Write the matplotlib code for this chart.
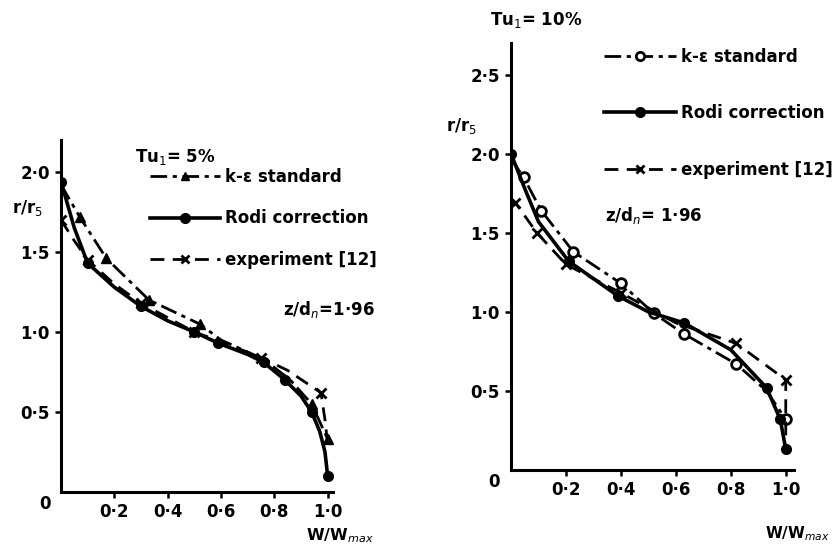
import matplotlib
matplotlib.use("Agg")
import matplotlib.pyplot as plt
from matplotlib.lines import Line2D

# ---------------- data (Tu1 = 5 %) ----------------
ke5_x = [0.0, 0.07, 0.17, 0.33, 0.52, 0.60, 0.76, 0.86, 0.94, 1.0]
ke5_y = [1.92, 1.72, 1.46, 1.20, 1.05, 0.95, 0.83, 0.70, 0.55, 0.33]
ke5_mark = [1, 2, 3, 4, 8, 9]

rodi5_x = [0.0, 0.05, 0.10, 0.20, 0.30, 0.40, 0.50, 0.59, 0.70, 0.76, 0.84, 0.90, 0.94, 0.97, 0.99, 1.0]
rodi5_y = [1.94, 1.65, 1.43, 1.28, 1.16, 1.07, 1.00, 0.93, 0.86, 0.81, 0.70, 0.60, 0.50, 0.38, 0.25, 0.10]
rodi5_mark = [0, 2, 4, 6, 7, 9, 10, 12, 15]

exp5_x = [0.0, 0.05, 0.10, 0.20, 0.30, 0.50, 0.60, 0.75, 0.85, 0.975, 0.99, 1.0]
exp5_y = [1.70, 1.57, 1.45, 1.30, 1.18, 1.00, 0.94, 0.84, 0.76, 0.62, 0.45, 0.30]
exp5_mark = [0, 2, 4, 5, 7, 9]

# ---------------- data (Tu1 = 10 %) ----------------
ke10_x = [0.0, 0.046, 0.11, 0.227, 0.40, 0.52, 0.63, 0.82, 0.93, 1.0]
ke10_y = [1.97, 1.85, 1.64, 1.38, 1.18, 0.99, 0.86, 0.67, 0.50, 0.32]
ke10_mark = [1, 2, 3, 4, 5, 6, 7, 9]

rodi10_x = [0.0, 0.05, 0.10, 0.21, 0.39, 0.50, 0.63, 0.80, 0.93, 0.98, 1.0]
rodi10_y = [2.00, 1.78, 1.57, 1.32, 1.10, 1.00, 0.93, 0.76, 0.52, 0.32, 0.13]
rodi10_mark = [0, 3, 4, 6, 8, 9, 10]

exp10_x = [0.0, 0.016, 0.094, 0.20, 0.40, 0.60, 0.82, 1.0, 1.0]
exp10_y = [1.72, 1.69, 1.50, 1.30, 1.12, 0.93, 0.80, 0.57, 0.11]
exp10_mark = [1, 2, 3, 4, 6, 7]

xticks = [0.2, 0.4, 0.6, 0.8, 1.0]
xticklabels = ["0·2", "0·4", "0·6", "0·8", "1·0"]
yticks5 = [0.5, 1.0, 1.5, 2.0]
yticklabels5 = ["0·5", "1·0", "1·5", "2·0"]
yticks10 = [0.5, 1.0, 1.5, 2.0, 2.5]
yticklabels10 = ["0·5", "1·0", "1·5", "2·0", "2·5"]

FONT = dict(family="DejaVu Sans", fontweight="bold")
LW = 2.0
K = "black"

fig = plt.figure(figsize=(8.36, 5.48), dpi=100)
fig.patch.set_facecolor("white")

ax1 = fig.add_axes([61/836, 56/548, 272/836, 352/548])
ax2 = fig.add_axes([511/836, 78/548, 283/836, 427/548])


def style(ax, xlim, ylim, yt, ytl):
    ax.set_xlim(*xlim)
    ax.set_ylim(*ylim)
    for s in ["top", "right"]:
        ax.spines[s].set_visible(False)
    for s in ["left", "bottom"]:
        ax.spines[s].set_linewidth(2.2)
    ax.set_xticks(xticks)
    ax.set_xticklabels(xticklabels, fontsize=12, **FONT)
    ax.set_yticks(yt)
    ax.set_yticklabels(ytl, fontsize=12, **FONT)
    ax.tick_params(direction="out", length=4, width=1.8, pad=4)
    ax.text(-0.04, -0.02, "0", transform=ax.transData, ha="right", va="top",
            fontsize=12, **FONT)


style(ax1, (0, 1.02), (0, 2.2), yticks5, yticklabels5)
style(ax2, (0, 1.03), (0, 2.7), yticks10, yticklabels10)

# ---- left panel curves ----
ax1.plot(ke5_x, ke5_y, color=K, lw=LW, ls=(0, (6, 2, 1.5, 2)), marker="^",
         ms=7, markevery=ke5_mark)
ax1.plot(rodi5_x, rodi5_y, color=K, lw=LW + 0.6, ls="-", marker="o",
         ms=7, markevery=rodi5_mark)
ax1.plot(exp5_x, exp5_y, color=K, lw=LW, ls=(0, (5, 3)), marker="x",
         ms=7, mew=2, markevery=exp5_mark)

# ---- right panel curves ----
ax2.plot(ke10_x, ke10_y, color=K, lw=LW, ls=(0, (6, 2, 1.5, 2)), marker="o",
         ms=7, mfc="white", mew=2, markevery=ke10_mark)
ax2.plot(rodi10_x, rodi10_y, color=K, lw=LW + 0.6, ls="-", marker="o",
         ms=7, markevery=rodi10_mark)
ax2.plot(exp10_x, exp10_y, color=K, lw=LW, ls=(0, (5, 3)), marker="x",
         ms=7, mew=2, markevery=exp10_mark)

# ---- legends ----
h_ke5 = Line2D([], [], color=K, lw=LW, ls=(0, (6, 2, 1.5, 2)), marker="^", ms=6)
h_ke10 = Line2D([], [], color=K, lw=LW, ls=(0, (6, 2, 1.5, 2)), marker="o",
                ms=6, mfc="white", mew=2)
h_rodi = Line2D([], [], color=K, lw=LW + 0.6, ls="-", marker="o", ms=7)
h_exp = Line2D([], [], color=K, lw=LW, ls=(0, (5, 3)), marker="x", ms=6, mew=2)
labels = ["k-ε standard", "Rodi correction", "experiment [12]"]

leg1 = fig.legend([h_ke5, h_rodi, h_exp], labels, loc="upper left",
                  bbox_to_anchor=(150/836, 1 - 168/548), frameon=False,
                  handlelength=4.2, handletextpad=0.3, labelspacing=1.4,
                  prop=dict(family="DejaVu Sans", weight="bold", size=12),
                  borderpad=0, borderaxespad=0)
leg2 = fig.legend([h_ke10, h_rodi, h_exp], labels, loc="upper left",
                  bbox_to_anchor=(604/836, 1 - 48/548), frameon=False,
                  handlelength=4.3, handletextpad=0.3, labelspacing=2.3,
                  prop=dict(family="DejaVu Sans", weight="bold", size=12),
                  borderpad=0, borderaxespad=0)

# ---- annotations ----
fig.text(135/836, 1 - 157/548, "Tu$_1$= 5%", ha="left", va="center", fontsize=12, **FONT)
fig.text(490/836, 1 - 20/548, "Tu$_1$= 10%", ha="left", va="center", fontsize=12, **FONT)
fig.text(283/836, 1 - 310/548, "z/d$_n$=1·96", ha="left", va="center", fontsize=12, **FONT)
fig.text(605/836, 1 - 215/548, "z/d$_n$= 1·96", ha="left", va="center", fontsize=12, **FONT)
fig.text(12/836, 1 - 208/548, "r/r$_5$", ha="left", va="center", fontsize=12, **FONT)
fig.text(446/836, 1 - 126/548, "r/r$_5$", ha="left", va="center", fontsize=12, **FONT)
fig.text(306/836, 1 - 536/548, "W/W$_{max}$", ha="left", va="center", fontsize=11.5, **FONT)
fig.text(765/836, 1 - 534/548, "W/W$_{max}$", ha="left", va="center", fontsize=11, **FONT)

fig.savefig("out.png", dpi=100, facecolor="white")
